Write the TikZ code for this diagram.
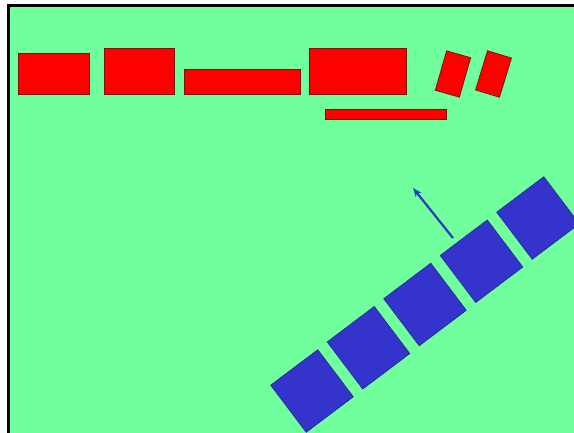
\documentclass[tikz,border=0pt]{standalone}
\usetikzlibrary{arrows.meta}
\definecolor{meadow}{RGB}{112, 255, 156}
\definecolor{brick}{RGB}{255, 0, 0}
\definecolor{brickline}{RGB}{120, 20, 10}
\definecolor{tileblue}{RGB}{52, 52, 204}
\definecolor{arrowblue}{RGB}{40, 60, 190}

\begin{document}
\begin{tikzpicture}[x=1pt, y=-1pt,
            block/.style={draw=brickline, fill=brick, line width=0.8pt, inner sep=0pt, rectangle},
            tile/.style={draw=tileblue!70!black, fill=tileblue, line width=0.6pt, inner sep=0pt, minimum width=59pt, minimum height=59pt, rotate=37},
            arrow/.style={-{Stealth[length=9pt, width=7pt]}, line width=2.2pt, arrowblue}
        ]
            \useasboundingbox (0,0) rectangle (574,433);
            \clip (0,0) rectangle (574,433);
            \fill[white] (0,0) rectangle (574,433);
            \draw[fill=meadow, line width=3pt] (8,6) rectangle (590,450);

            % red blocks along the top
            \node[block, minimum width=71pt, minimum height=41pt] (b1) at (53.5,73.5) {};
            \node[block, minimum width=70pt, minimum height=46pt] (b2) at (139,71) {};
            \node[block, minimum width=116pt, minimum height=25pt] (b3) at (242,81.5) {};
            \node[block, minimum width=97pt, minimum height=46pt] (b4) at (357.5,71) {};
            \node[block, minimum width=121pt, minimum height=10pt] (bar) at (385.5,114) {};
            \node[block, minimum width=25pt, minimum height=41pt, rotate=-16] (t1) at (453,74) {};
            \node[block, minimum width=25pt, minimum height=41pt, rotate=-17] (t2) at (493.5,74) {};

            % blue tiles on the slope
            \foreach \i in {0,...,4}
                \node[tile] (s\i) at ({312+56.5*\i},{391-43.25*\i}) {};

            \coordinate (tail) at (453,238);
            \coordinate (head) at (413,188);
            \draw[arrow] (tail) -- (head);
        \end{tikzpicture}
\end{document}
